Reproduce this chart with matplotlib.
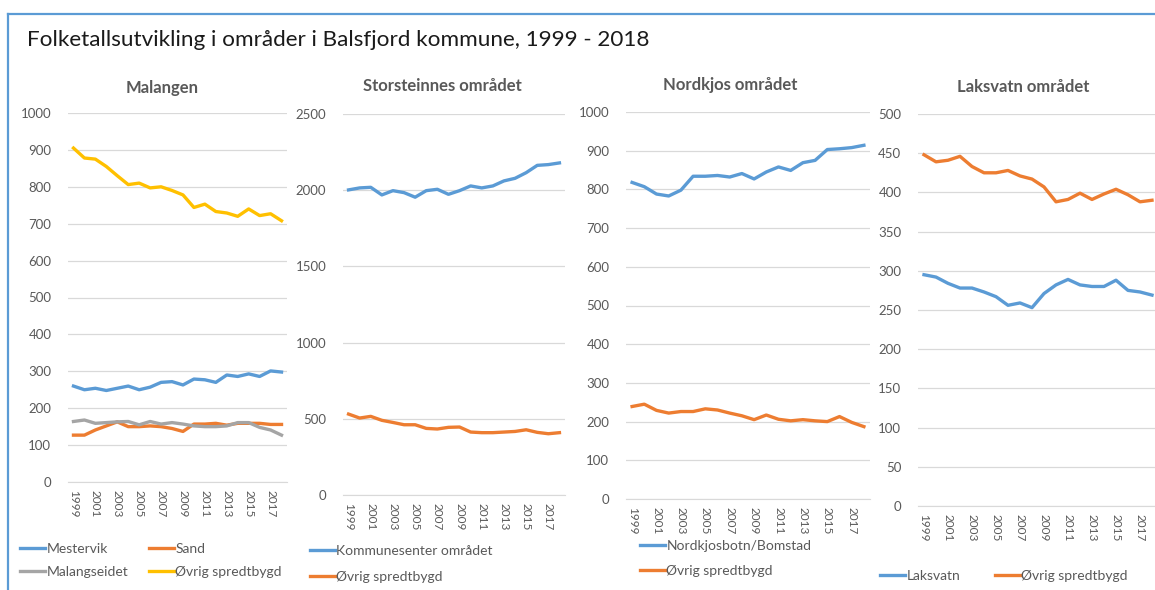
import matplotlib.pyplot as plt
from matplotlib.lines import Line2D

# ---- data (1999 - 2018)
years = list(range(1999, 2019))

mestervik = [260, 250, 254, 248, 254, 260, 250, 257, 270, 272,
             263, 279, 277, 270, 290, 286, 293, 286, 301, 298]
sand = [127, 127, 141, 152, 163, 150, 150, 152, 150, 145,
        137, 157, 157, 159, 154, 159, 159, 159, 156, 156]
malangseidet = [164, 168, 159, 161, 163, 164, 155, 164, 157, 161,
                157, 152, 150, 150, 152, 161, 161, 148, 141, 127]
malangen_ovrig = [905, 878, 875, 855, 830, 806, 810, 797, 800, 790,
                  778, 744, 753, 733, 729, 720, 740, 722, 727, 708]

kommunesenter = [2002, 2015, 2019, 1969, 1997, 1984, 1954, 1997, 2006, 1973,
                 1997, 2028, 2015, 2028, 2061, 2078, 2115, 2163, 2168, 2179]
storsteinnes_ovrig = [531, 505, 516, 490, 476, 461, 461, 437, 433, 444,
                      446, 413, 409, 409, 413, 417, 428, 411, 402, 409]

nordkjosbotn = [818, 807, 788, 783, 798, 834, 834, 836, 832, 841,
                827, 845, 858, 849, 869, 875, 903, 905, 908, 914]
nordkjos_ovrig = [239, 245, 229, 222, 226, 226, 233, 230, 222, 215,
                  205, 217, 206, 202, 205, 202, 200, 213, 198, 187]

laksvatn = [295, 292, 284, 278, 278, 273, 267, 256, 259, 253,
            271, 282, 289, 282, 280, 280, 288, 275, 273, 269]
laksvatn_ovrig = [448, 439, 441, 446, 433, 425, 425, 428, 421, 417,
                  407, 388, 391, 399, 391, 398, 404, 397, 388, 390]

BLUE = '#5B9BD5'
ORANGE = '#ED7D31'
GREY = '#A5A5A5'
YELLOW = '#FFC000'
TXT = '#595959'

plt.rcParams['font.family'] = ['Lato', 'DejaVu Sans']

W, H = 1155, 590
fig = plt.figure(figsize=(W / 100, H / 100), dpi=100)


def px_axes(x0, x1, ytop, ybot):
    return fig.add_axes([x0 / W, 1 - ybot / H, (x1 - x0) / W, (ybot - ytop) / H])


def style(ax, ymax, step):
    ax.set_xlim(-0.5, len(years) - 0.5)
    ax.set_ylim(0, ymax)
    ax.set_yticks(range(0, ymax + 1, step))
    ax.set_xticks(range(0, len(years), 2))
    ax.set_xticklabels([str(y) for y in years[::2]], rotation=-90)
    ax.grid(axis='y', color='#D9D9D9', lw=0.9)
    ax.set_axisbelow(True)
    for s in ['top', 'right', 'left']:
        ax.spines[s].set_visible(False)
    ax.spines['bottom'].set_color('#D9D9D9')
    ax.tick_params(length=0, colors=TXT, labelsize=9)
    ax.tick_params(axis='y', pad=12, labelsize=9.5)
    ax.tick_params(axis='x', pad=6, labelsize=8.5)


x = list(range(len(years)))
lw = 2.4

# Malangen
ax1 = px_axes(68, 287, 113, 482)
l1, = ax1.plot(x, mestervik, color=BLUE, lw=lw, label='Mestervik')
l2, = ax1.plot(x, sand, color=ORANGE, lw=lw, label='Sand')
l3, = ax1.plot(x, malangseidet, color=GREY, lw=lw, label='Malangseidet')
l4, = ax1.plot(x, malangen_ovrig, color=YELLOW, lw=lw, label='Øvrig spredtbygd')
style(ax1, 1000, 100)

# Storsteinnes
ax2 = px_axes(343, 565, 114, 495)
ax2.plot(x, kommunesenter, color=BLUE, lw=lw, label='Kommunesenter området')
ax2.plot(x, storsteinnes_ovrig, color=ORANGE, lw=lw, label='Øvrig spredtbygd')
style(ax2, 2500, 500)

# Nordkjos
ax3 = px_axes(626, 870, 112, 499)
ax3.plot(x, nordkjosbotn, color=BLUE, lw=lw, label='Nordkjosbotn/Bomstad')
ax3.plot(x, nordkjos_ovrig, color=ORANGE, lw=lw, label='Øvrig spredtbygd')
style(ax3, 1000, 100)

# Laksvatn
ax4 = px_axes(918, 1158, 114, 506)
ax4.plot(x, laksvatn, color=BLUE, lw=lw, label='Laksvatn')
ax4.plot(x, laksvatn_ovrig, color=ORANGE, lw=lw, label='Øvrig spredtbygd')
style(ax4, 500, 50)

# panel titles
for tx, ty, t in [(162, 88, 'Malangen'), (442, 86, 'Storsteinnes området'),
                  (730, 85, 'Nordkjos området'), (1023, 87, 'Laksvatn området')]:
    fig.text(tx / W, 1 - ty / H, t, ha='center', va='center', fontsize=12,
             fontweight='bold', color=TXT)

# main title
fig.text(27 / W, 1 - 40 / H, 'Folketallsutvikling i områder i Balsfjord kommune, 1999 - 2018',
         ha='left', va='center', fontsize=16.2, color='#1a1a1a')

# legends
leg_kw = dict(frameon=False, fontsize=10, labelcolor=TXT, handlelength=1.8,
              handletextpad=0.1, borderaxespad=0, borderpad=0)
ax1.legend(handles=[l1, l3, l2, l4], loc='upper left', ncol=2,
           bbox_to_anchor=(20 / W, 1 - 543 / H), bbox_transform=fig.transFigure,
           columnspacing=1.5, labelspacing=0.8, **leg_kw)
ax2.legend(loc='upper left', bbox_to_anchor=(310 / W, 1 - 545 / H),
           bbox_transform=fig.transFigure, labelspacing=1.0, **leg_kw)
ax3.legend(loc='upper left', bbox_to_anchor=(640 / W, 1 - 540 / H),
           bbox_transform=fig.transFigure, labelspacing=0.95, **leg_kw)
ax4.legend(loc='upper left', ncol=2, bbox_to_anchor=(880 / W, 1 - 570 / H),
           bbox_transform=fig.transFigure, columnspacing=2.5, **leg_kw)

# outer frame (blue)
fig.add_artist(Line2D([8 / W, 1.0], [1 - 14 / H, 1 - 14 / H], color=BLUE, lw=1.6,
                      transform=fig.transFigure))
fig.add_artist(Line2D([8 / W, 8 / W], [0, 1 - 14 / H], color=BLUE, lw=1.6,
                      transform=fig.transFigure))

fig.savefig('out.png', dpi=100)
